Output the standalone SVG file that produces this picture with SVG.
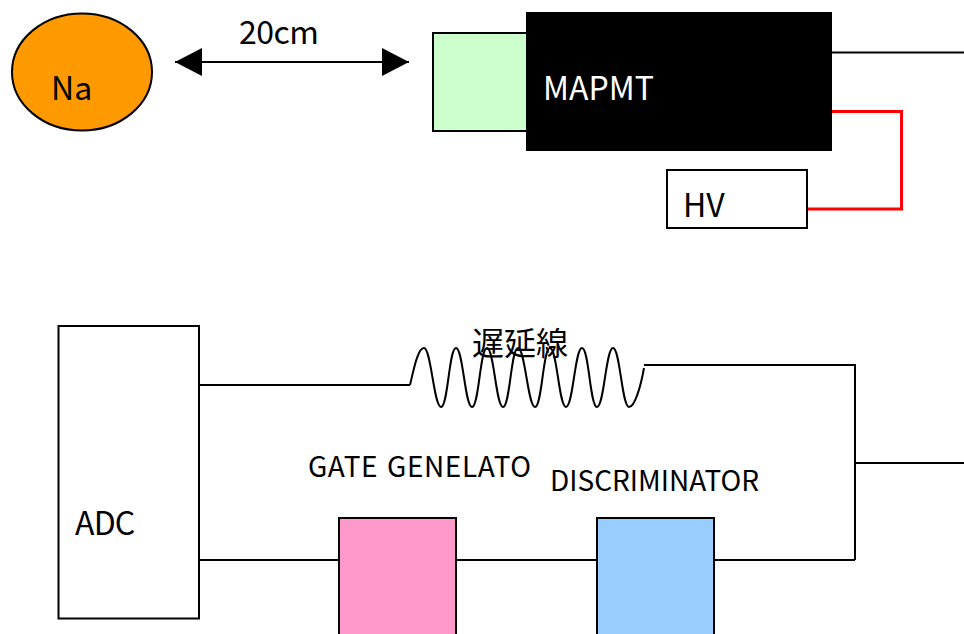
<svg xmlns="http://www.w3.org/2000/svg" width="964" height="634" viewBox="0 0 964 634">
<style>
text{font-family:"Noto Sans CJK JP","Noto Sans",sans-serif;fill:#000}
.b{fill:none;stroke:#000;stroke-width:2}
.w{fill:none;stroke:#000;stroke-width:2}
.r{fill:none;stroke:#f00;stroke-width:3;stroke-linecap:round}
.big{font-size:32px}
.small{font-size:28px}
</style>
<defs>
<clipPath id="gc"><rect x="300" y="445" width="234" height="40"/></clipPath>
<marker id="ah" markerUnits="userSpaceOnUse" markerWidth="28" markerHeight="28" refX="27" refY="14" orient="auto-start-reverse"><path d="M0 0L27 14L0 28z" fill="#000"/></marker>
</defs>
<rect width="964" height="634" fill="#fff"/>
<g id="connectors">
<path class="b" d="M175 62H409" marker-start="url(#ah)" marker-end="url(#ah)"/>
<path class="b" d="M831 52.500H964"/>
<path class="r" d="M831 111.500H901.500V209H807"/>
<path class="b" d="M199 385H410"/>
<path class="w" d="M410 385C414 368 418 348 424 348C431 348 434 407 441 407C448 407 449 348 456 348C463 348 465 407 472 407C479 407 480 348 487 348C494 348 496 407 503 407C510 407 511 348 518 348C525 348 528 407 535 407C542 407 543 348 550 348C557 348 559 407 566 407C573 407 575 348 582 348C589 348 590 407 597 407C604 407 606 348 613 348C620 348 622 407 629 407C635 407 641 385 644 368"/>
<path class="b" d="M644 365H855V560M855 463H964"/>
<path class="b" d="M199 560H339M456 560H597M714 560H855"/>
</g>
<g id="na"><ellipse cx="82" cy="72" rx="70" ry="58.500" fill="#f90" stroke="#000" stroke-width="2"/><text x="51" y="100" class="big">Na</text></g>
<g id="distance"><text x="239" y="44" class="big" letter-spacing="-0.500">20cm</text></g>
<g id="lens"><rect x="433" y="33" width="94" height="98" fill="#cfc" stroke="#000" stroke-width="2"/></g>
<g id="mapmt"><rect x="526" y="12" width="306" height="139" fill="#000"/><text x="543" y="100" class="big" style="fill:#fff">MAPMT</text></g>
<g id="hv"><rect x="667" y="170" width="140" height="58" fill="#fff" stroke="#000" stroke-width="2"/><text x="683" y="217" class="big">HV</text></g>
<g id="adc"><rect x="58.500" y="326" width="140.500" height="292.500" fill="#fff" stroke="#000" stroke-width="2"/><text x="75" y="535" class="big" letter-spacing="-0.800">ADC</text></g>
<g id="delay"><text x="472" y="355" class="big">遅延線</text></g>
<g id="gate"><text x="308" y="477" class="small" letter-spacing="0.600" word-spacing="2" clip-path="url(#gc)">GATE GENELATOR</text><rect x="339" y="518" width="117" height="120" fill="#f9c" stroke="#000" stroke-width="2"/></g>
<g id="disc"><text x="550" y="491" class="small">DISCRIMINATOR</text><rect x="597" y="518" width="117" height="120" fill="#9cf" stroke="#000" stroke-width="2"/></g>
</svg>
